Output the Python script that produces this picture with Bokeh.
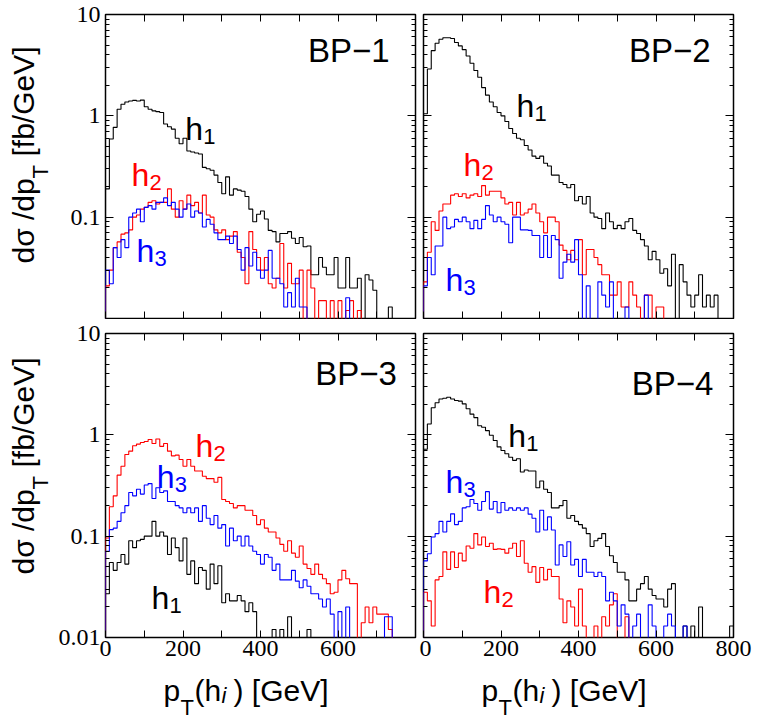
import numpy as np
from bokeh.plotting import figure
from bokeh.layouts import column, row
from bokeh.models import (FixedTicker, LogAxis, LinearAxis, Label, Range1d,
                          CustomJSTickFormatter)
from bokeh.embed import file_html
from bokeh.resources import INLINE

# ---------------- data (dsigma/dpT in fb/GeV, 10 GeV bins starting at 0) ----------------
BIN_WIDTH = 10.0
X_MAJOR_LEFT = [0, 200, 400, 600]
X_MAJOR_RIGHT = [0, 200, 400, 600, 800]
X_MINOR = [100, 300, 500, 700]
Y_MAJOR_TOP = [0.1, 1, 10]
Y_MAJOR_BOTTOM = [0.01, 0.1, 1, 10]
Y_MINOR = [0.02, 0.03, 0.04, 0.05, 0.06, 0.07, 0.08, 0.09,
           0.2, 0.3, 0.4, 0.5, 0.6, 0.7, 0.8, 0.9,
           2, 3, 4, 5, 6, 7, 8, 9]

bp1_h1 = [0.19, 0.59, 0.77, 1.16, 1.3, 1.37, 1.4, 1.42, 1.4, 1.43,
          1.23, 1.16, 1.12, 1.1, 1.08, 0.83, 0.78, 0.74, 0.6, 0.53,
          0.6, 0.45, 0.44, 0.43, 0.42, 0.31, 0.3, 0.29, 0.26, 0.22,
          0.17, 0.25, 0.165, 0.19, 0.185, 0.18, 0.16, 0.12, 0.09, 0.107,
          0.115, 0.096, 0.074, 0.072, 0.057, 0.069, 0.069, 0.072, 0.062, 0.055,
          0.063, 0.051, 0.052, 0.027, 0.027, 0.04, 0.032, 0.027, 0.027, 0.04,
          0.02, 0.02, 0.04, 0.02, 0.02, 0.025, 0, 0.027, 0.024, 0.019,
          0, 0, 0, 0.013]
bp1_h2 = [0.021, 0.03, 0.05, 0.057, 0.068, 0.07, 0.075, 0.1, 0.105, 0.12,
          0.125, 0.14, 0.145, 0.135, 0.14, 0.14, 0.19, 0.12, 0.1, 0.145,
          0.12, 0.165, 0.13, 0.14, 0.11, 0.165, 0.105, 0.1, 0.075, 0.07,
          0.075, 0.06, 0.065, 0.072, 0.045, 0.04, 0.022, 0.072, 0.048, 0.04,
          0.03, 0.04, 0.022, 0.02, 0.025, 0.055, 0.02, 0.035, 0.022, 0.022,
          0.03, 0, 0.03, 0.02, 0, 0.015, 0.015, 0, 0.015, 0,
          0.015, 0, 0.012, 0.015, 0, 0.012]
bp1_h3 = [0.03, 0.022, 0.05, 0.04, 0.06, 0.05, 0.1, 0.11, 0.12, 0.09,
          0.125, 0.13, 0.12, 0.14, 0.14, 0.155, 0.13, 0.14, 0.12, 0.1,
          0.12, 0.135, 0.1, 0.115, 0.11, 0.08, 0.095, 0.085, 0.07, 0.06,
          0.06, 0.065, 0.055, 0.065, 0.048, 0.03, 0.05, 0.033, 0.045, 0.03,
          0.025, 0.03, 0.047, 0.025, 0.025, 0.022, 0.013, 0.018, 0.013, 0.025,
          0.013, 0.013, 0, 0, 0, 0, 0, 0, 0, 0,
          0, 0, 0.016]

bp2_h1 = [1.05, 2.9, 4.4, 5.2, 5.7, 5.9, 5.9, 5.8, 5.3, 4.9,
          4.5, 3.9, 3.3, 2.8, 2.4, 1.9, 1.6, 1.37, 1.23, 1.08,
          1.0, 0.88, 0.75, 0.67, 0.6, 0.58, 0.51, 0.46, 0.4, 0.38,
          0.4, 0.34, 0.32, 0.26, 0.26, 0.22, 0.21, 0.195, 0.21, 0.145,
          0.16, 0.135, 0.16, 0.11, 0.1, 0.097, 0.077, 0.11, 0.09, 0.077,
          0.083, 0.077, 0.09, 0.097, 0.074, 0.069, 0.06, 0.052, 0.038, 0.046,
          0.038, 0.028, 0.031, 0.021, 0.043, 0, 0.034, 0.023, 0.017, 0.013,
          0.017, 0.027, 0.013, 0.017, 0.013, 0.017]
bp2_h2 = [0.023, 0.045, 0.09, 0.074, 0.115, 0.135, 0.135, 0.165, 0.17, 0.16,
          0.17, 0.155, 0.165, 0.17, 0.16, 0.205, 0.165, 0.18, 0.18, 0.18,
          0.155, 0.135, 0.14, 0.105, 0.14, 0.105, 0.11, 0.12, 0.135, 0.11,
          0.09, 0.07, 0.1, 0.1, 0.09, 0.053, 0.047, 0.038, 0.047, 0.038,
          0.06, 0.027, 0.048, 0.048, 0.04, 0.034, 0.027, 0.027, 0.017, 0.017,
          0.023, 0.013, 0.013, 0.023, 0.017, 0.013, 0, 0.017, 0.017, 0,
          0.013, 0.013]
bp2_h3 = [0.021, 0.04, 0.027, 0.052, 0.052, 0.1, 0.077, 0.08, 0.095, 0.09,
          0.1, 0.09, 0.077, 0.093, 0.077, 0.095, 0.13, 0.105, 0.09, 0.1,
          0.09, 0.085, 0.056, 0.1, 0.1, 0.075, 0.075, 0.074, 0.066, 0.066,
          0.04, 0.066, 0.04, 0.066, 0.06, 0.025, 0.036, 0.043, 0.036, 0.06,
          0.027, 0, 0.021, 0, 0, 0.023, 0.017, 0.013, 0.023, 0,
          0, 0, 0.013, 0, 0, 0, 0, 0.017]

bp3_h2 = [0.096, 0.195, 0.25, 0.4, 0.49, 0.64, 0.69, 0.78, 0.81, 0.84,
          0.86, 0.9, 0.82, 0.91, 0.77, 0.82, 0.69, 0.62, 0.63, 0.57,
          0.49, 0.57, 0.49, 0.44, 0.44, 0.39, 0.37, 0.37, 0.34, 0.38,
          0.23, 0.22, 0.21, 0.19, 0.2, 0.2, 0.18, 0.18, 0.16, 0.13,
          0.145, 0.12, 0.11, 0.11, 0.096, 0.083, 0.071, 0.09, 0.068, 0.062,
          0.08, 0.053, 0.048, 0.042, 0.053, 0.042, 0.038, 0.034, 0.027, 0.028,
          0.037, 0.046, 0.038, 0.034, 0.034, 0, 0.014, 0.02, 0.014, 0.02,
          0.017, 0.017, 0.017, 0.012]
bp3_h3 = [0.071, 0.116, 0.12, 0.14, 0.17, 0.2, 0.27, 0.25, 0.29, 0.26,
          0.32, 0.33, 0.235, 0.3, 0.27, 0.28, 0.22, 0.22, 0.2, 0.19,
          0.17, 0.19, 0.17, 0.19, 0.14, 0.2, 0.15, 0.13, 0.16, 0.12,
          0.13, 0.08, 0.12, 0.09, 0.1, 0.08, 0.1, 0.08, 0.071, 0.066,
          0.053, 0.066, 0.062, 0.046, 0.053, 0.037, 0.037, 0.037, 0.046, 0.036,
          0.031, 0.037, 0.032, 0.027, 0.027, 0.024, 0.02, 0.024, 0.017, 0,
          0.018, 0, 0.02, 0, 0, 0, 0, 0, 0, 0,
          0, 0, 0.016, 0.016]
bp3_h1 = [0.027, 0.055, 0.046, 0.055, 0.066, 0.053, 0.09, 0.077, 0.09, 0.093,
          0.1, 0.1, 0.14, 0.1, 0.11, 0.1, 0.066, 0.096, 0.077, 0.057,
          0.096, 0.042, 0.057, 0.034, 0.049, 0.046, 0.03, 0.053, 0.034, 0.051,
          0.022, 0.027, 0.023, 0.023, 0.026, 0.023, 0.018, 0.022, 0.018, 0,
          0, 0, 0, 0.012, 0, 0.012, 0, 0.016, 0, 0,
          0, 0, 0.012]

bp4_h1 = [0.72, 1.28, 1.85, 2.07, 2.26, 2.3, 2.35, 2.26, 2.18, 2.15,
          2.02, 1.81, 1.6, 1.48, 1.23, 1.19, 1.1, 0.99, 0.88, 0.76,
          0.7, 0.65, 0.6, 0.56, 0.58, 0.43, 0.45, 0.44, 0.44, 0.3,
          0.35, 0.29, 0.27, 0.19, 0.19, 0.2, 0.225, 0.15, 0.16, 0.14,
          0.13, 0.12, 0.106, 0.079, 0.09, 0.095, 0.106, 0.079, 0.064, 0.055,
          0.044, 0.044, 0.037, 0.023, 0.023, 0.03, 0.034, 0.04, 0.03, 0.026,
          0.024, 0.024, 0.02, 0.03, 0.034, 0, 0, 0.013, 0, 0.013,
          0, 0.02, 0, 0, 0, 0, 0, 0, 0, 0.013]
bp4_h3 = [0.057, 0.067, 0.098, 0.106, 0.14, 0.11, 0.14, 0.166, 0.13, 0.14,
          0.19, 0.195, 0.23, 0.21, 0.18, 0.22, 0.275, 0.185, 0.22, 0.17,
          0.215, 0.18, 0.19, 0.18, 0.19, 0.18, 0.19, 0.165, 0.15, 0.11,
          0.18, 0.115, 0.155, 0.115, 0.052, 0.082, 0.063, 0.088, 0.052, 0.059,
          0.04, 0.059, 0.044, 0.044, 0.04, 0.044, 0.04, 0.023, 0.028, 0.023,
          0.013, 0.021, 0.017, 0, 0.013, 0.017, 0, 0, 0.021, 0.013,
          0, 0, 0.013, 0.017, 0.013, 0, 0, 0.013]
bp4_h2 = [0.028, 0.023, 0.013, 0.037, 0.04, 0.07, 0.047, 0.07, 0.049, 0.068,
          0.057, 0.08, 0.076, 0.106, 0.082, 0.098, 0.079, 0.085, 0.074, 0.075,
          0.074, 0.068, 0.076, 0.085, 0.063, 0.09, 0.054, 0.044, 0.05, 0.035,
          0.049, 0.037, 0.047, 0.04, 0.04, 0.024, 0.014, 0.023, 0.02, 0.013,
          0.03, 0.013, 0, 0, 0.013, 0, 0.016, 0.013, 0.021, 0.027,
          0, 0, 0.016]

BLACK, RED, BLUE = "#000000", "#ff0000", "#0000ff"
SANS = "Liberation Sans"
SERIF = "Liberation Serif"
FLOOR = 1e-3          # drawing floor for empty bins (below the visible range)
MID = 0.35            # baseline offset from text-box middle, in em

FRAME_W, FRAME_H = 310, 304
YT_W = 55             # width of the y-title strip
XT_H = 54             # height of the x-title strip


def step_xy(vals):
    v = np.maximum(np.asarray(vals, dtype=float), FLOOR)
    edges = np.arange(len(v) + 1) * BIN_WIDTH
    xs = np.concatenate([[0.0], edges])
    ys = np.concatenate([[FLOOR], v, [FLOOR]])
    return xs, ys


def style_axis(ax, major_len, minor_len, labeled):
    ax.axis_line_color = None
    ax.major_tick_in = major_len
    ax.major_tick_out = 0
    ax.minor_tick_in = minor_len
    ax.minor_tick_out = 0
    ax.major_tick_line_color = "black"
    ax.minor_tick_line_color = "black"
    ax.major_tick_line_width = 1
    ax.minor_tick_line_width = 1
    if labeled:
        ax.major_label_text_font = SERIF
        ax.major_label_text_font_size = "24px"
        ax.major_label_text_color = "black"
    else:
        ax.formatter = CustomJSTickFormatter(code="return '';")
        ax.major_label_text_font_size = "0px"
        ax.major_label_standoff = 0


def panel(left, right, top, bottom, ylab_ticks, xlab_ticks):
    p = figure(frame_width=FRAME_W, frame_height=FRAME_H,
               x_range=Range1d(0, 800), y_range=Range1d(0.01, 10),
               y_axis_type="log", x_axis_location=None, y_axis_location=None,
               output_backend="svg", toolbar_location=None,
               min_border_left=left, min_border_right=right,
               min_border_top=top, min_border_bottom=bottom)
    p.grid.grid_line_color = None
    p.outline_line_color = "black"
    p.outline_line_width = 1.5
    p.background_fill_color = "white"
    p.border_fill_color = "white"

    xb = LinearAxis(ticker=FixedTicker(ticks=xlab_ticks if xlab_ticks else X_MAJOR_RIGHT,
                                       minor_ticks=X_MINOR))
    style_axis(xb, 7, 7, bool(xlab_ticks))
    if xlab_ticks:
        xb.major_label_standoff = 3
    p.add_layout(xb, "below")
    xt = LinearAxis(ticker=FixedTicker(ticks=X_MAJOR_RIGHT, minor_ticks=X_MINOR))
    style_axis(xt, 7, 7, False)
    p.add_layout(xt, "above")

    yl = LogAxis(ticker=FixedTicker(ticks=ylab_ticks if ylab_ticks else Y_MAJOR_BOTTOM,
                                    minor_ticks=Y_MINOR))
    style_axis(yl, 8, 4, bool(ylab_ticks))
    if ylab_ticks:
        yl.formatter = CustomJSTickFormatter(code="return String(tick);")
        yl.major_label_standoff = 5
    p.add_layout(yl, "left")
    yr = LogAxis(ticker=FixedTicker(ticks=Y_MAJOR_BOTTOM, minor_ticks=Y_MINOR))
    style_axis(yr, 8, 4, False)
    p.add_layout(yr, "right")
    return p


def blank(width, height):
    p = figure(frame_width=width, frame_height=height,
               x_range=Range1d(0, width), y_range=Range1d(0, height),
               x_axis_location=None, y_axis_location=None,
               output_backend="svg", toolbar_location=None,
               min_border=0)
    p.grid.grid_line_color = None
    p.outline_line_color = None
    p.background_fill_color = "white"
    p.border_fill_color = "white"
    return p


def draw(p, series):
    for vals, color in series:
        xs, ys = step_xy(vals)
        p.step(xs, ys, mode="after", line_color=color, line_width=1.1)


def add_text(p, x, y, text, size, color="black", align="left", dy=0, dx=0,
             angle=0.0, style="normal"):
    # (x, y) is the intended baseline point; the label is centred vertically
    if angle:
        xo, yo = dx - MID * size, dy
    else:
        xo, yo = dx, dy + MID * size
    p.add_layout(Label(x=x, y=y, text=text, text_font=SANS, text_font_size=f"{size}px",
                       text_font_style=style, text_color=color, text_align=align,
                       text_baseline="middle", x_offset=xo, y_offset=yo, angle=angle))


def add_h(p, x, y, sub, color):
    add_text(p, x, y, "h", 32, color)
    add_text(p, x, y, sub, 22, color, dx=18, dy=-4)


# ---------------- panels ----------------
p1 = panel(105 - YT_W, 4, 14, 1, Y_MAJOR_TOP, None)
draw(p1, [(bp1_h1, BLACK), (bp1_h2, RED), (bp1_h3, BLUE)])
add_text(p1, 733, 3.43, "BP−1", 33, align="right")
add_h(p1, 206, 0.577, "1", BLACK)
add_h(p1, 67, 0.202, "2", RED)
add_h(p1, 80, 0.0356, "3", BLUE)

p2 = panel(4, 20, 14, 1, None, None)
draw(p2, [(bp2_h1, BLACK), (bp2_h2, RED), (bp2_h3, BLUE)])
add_text(p2, 741, 3.43, "BP−2", 33, align="right")
add_h(p2, 240, 0.96, "1", BLACK)
add_h(p2, 103, 0.253, "2", RED)
add_h(p2, 57, 0.0186, "3", BLUE)

p3 = panel(105 - YT_W, 4, 14, 30, Y_MAJOR_BOTTOM, X_MAJOR_LEFT)
draw(p3, [(bp3_h1, BLACK), (bp3_h2, RED), (bp3_h3, BLUE)])
add_text(p3, 752, 3.07, "BP−3", 33, align="right")
add_h(p3, 232, 0.603, "2", RED)
add_h(p3, 132, 0.295, "3", BLUE)
add_h(p3, 119, 0.019, "1", BLACK)

p4 = panel(4, 20, 14, 30, None, X_MAJOR_RIGHT)
draw(p4, [(bp4_h1, BLACK), (bp4_h2, RED), (bp4_h3, BLUE)])
add_text(p4, 748, 2.46, "BP−4", 33, align="right")
add_h(p4, 219, 0.753, "1", BLACK)
add_h(p4, 57, 0.264, "3", BLUE)
add_h(p4, 155, 0.0218, "2", RED)

# ---------------- axis titles (own strips, so they are not clipped) ----------------
total_h = (14 + FRAME_H + 1) + (14 + FRAME_H + 30) + XT_H
ytitle = blank(YT_W, total_h)
for start in (total_h - 263, total_h - 574):   # page rows where each title starts
    add_text(ytitle, 33, start, "dσ /dp", 30, angle=np.pi / 2)
    add_text(ytitle, 48, start + 85, "T", 22, angle=np.pi / 2)
    add_text(ytitle, 33, start + 107, "[fb/GeV]", 30, angle=np.pi / 2)

xt_w = (105 - YT_W + FRAME_W + 4) + (4 + FRAME_W + 20)
xtitle = blank(xt_w, XT_H)
for x0 in (105 - YT_W, 105 - YT_W + 318):          # frame left edges within the strip
    add_text(xtitle, x0 + 58, 21, "p", 30)
    add_text(xtitle, x0 + 75, 6, "T", 22)
    add_text(xtitle, x0 + 89, 21, "(h", 30)
    add_text(xtitle, x0 + 116, 18, "i", 22, style="italic")
    add_text(xtitle, x0 + 128, 21, ") [GeV]", 30)

layout = row(ytitle, column(row(p1, p2), row(p3, p4), xtitle))
open("out.html", "w").write(file_html(layout, INLINE))
